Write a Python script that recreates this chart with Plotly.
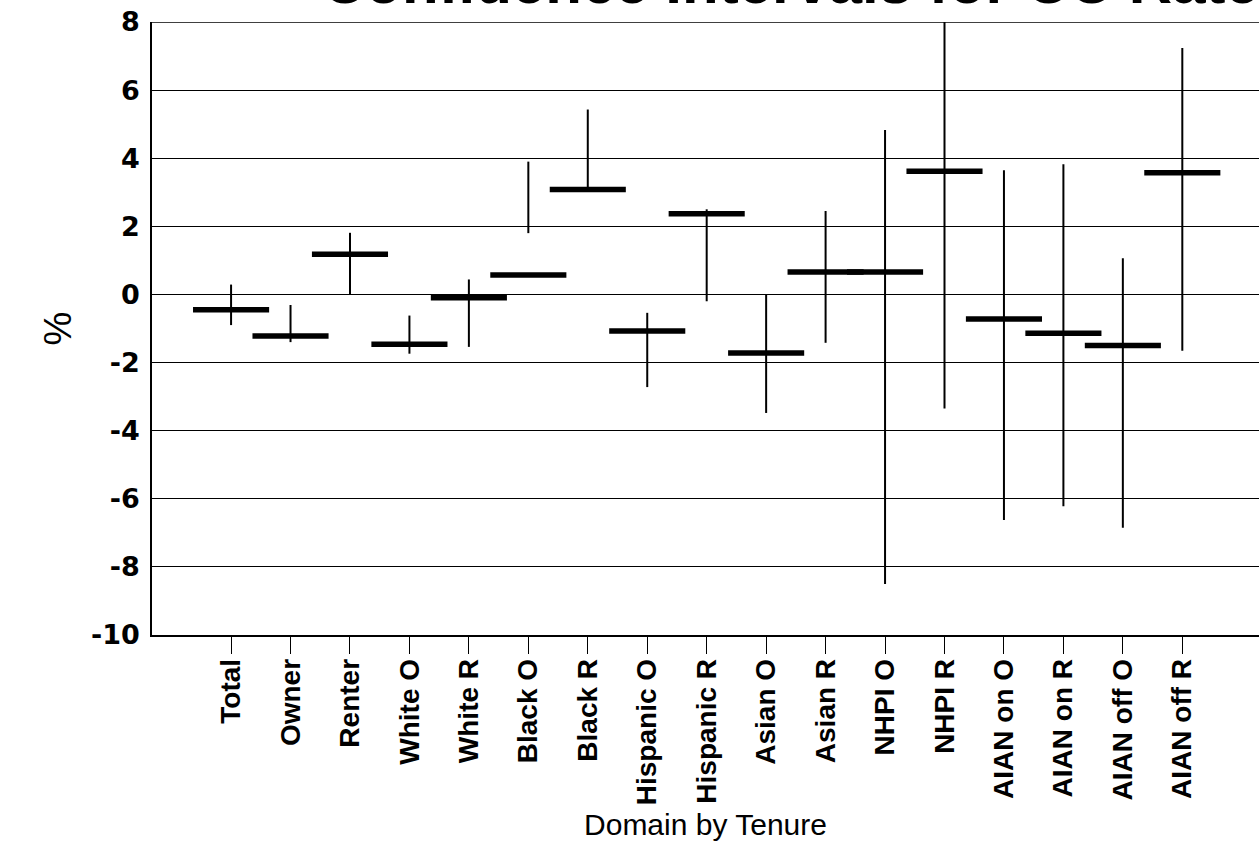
import plotly.graph_objects as go

categories = ["Total", "Owner", "Renter", "White O", "White R", "Black O", "Black R",
              "Hispanic O", "Hispanic R", "Asian O", "Asian R", "NHPI O", "NHPI R",
              "AIAN on O", "AIAN on R", "AIAN off O", "AIAN off R"]
estimate = [-0.45, -1.22, 1.18, -1.46, -0.10, 0.57, 3.08, -1.07, 2.37, -1.72, 0.66,
            0.66, 3.62, -0.72, -1.14, -1.50, 3.57]
lower = [-0.90, -1.40, 0.00, -1.74, -1.54, 1.80, 3.08, -2.72, -0.20, -3.48, -1.42,
         -8.50, -3.35, -6.62, -6.22, -6.85, -1.65]
upper = [0.29, -0.31, 1.81, -0.62, 0.44, 3.90, 5.43, -0.54, 2.50, 0.00, 2.45,
         4.83, 8.00, 3.65, 3.82, 1.06, 7.24]
y_ticks = [-10, -8, -6, -4, -2, 0, 2, 4, 6, 8]
y_tick_labels = ["-10", "-8", "-6", "-4", "-2", "0", "2", "4", "6", "8"]

idx = list(range(len(categories)))

fig = go.Figure()
# confidence interval lines
fig.add_trace(go.Scatter(
    x=idx, y=estimate, mode="markers",
    marker=dict(size=0.1, color="black", opacity=0),
    error_y=dict(type="data", symmetric=False,
                 array=[u - e for u, e in zip(upper, estimate)],
                 arrayminus=[e - l for e, l in zip(estimate, lower)],
                 color="black", thickness=2, width=0),
    hoverinfo="skip", showlegend=False, cliponaxis=False))
# estimate bars
fig.add_trace(go.Scatter(
    x=idx, y=estimate, mode="markers",
    marker=dict(size=0.1, color="black", opacity=0),
    error_x=dict(type="constant", value=0.64, color="black", thickness=5.5, width=0),
    showlegend=False, cliponaxis=False))

# top frame line at the highest tick
fig.add_shape(type="line", xref="paper", yref="y", x0=0, x1=1,
              y0=y_ticks[-1], y1=y_ticks[-1], line=dict(color="black", width=1.5))

fig.add_annotation(text="<b>Confidence Intervals for CC Rate</b>",
                   xref="paper", yref="paper", x=0.152, y=1.0065,
                   xanchor="left", yanchor="bottom", showarrow=False,
                   font=dict(family="Liberation Sans, Arial", size=60, color="black"))

fig.update_layout(
    width=1259, height=863,
    margin=dict(l=152, r=0, t=22, b=228, autoexpand=False),
    paper_bgcolor="white", plot_bgcolor="white",
    font=dict(family="Liberation Sans, Arial", color="black"),
    xaxis=dict(range=[-1.33, 17.29], tickvals=idx, ticktext=categories,
               tickangle=-90, ticks="outside", ticklen=17, tickcolor="black",
               tickwidth=1, showgrid=False, zeroline=False, automargin=False,
               showline=True, linecolor="black", linewidth=1.5,
               tickfont=dict(family="Liberation Sans, Arial", size=28,
                             color="black", weight="bold"),
               ticklabelstandoff=-6, ticklabeloverflow="allow",
               title=dict(text="Domain by Tenure", standoff=10,
                          font=dict(family="Liberation Sans, Arial", size=30, color="black"))),
    yaxis=dict(range=[-10, 8], tickvals=y_ticks, ticktext=y_tick_labels,
               showgrid=True, gridcolor="black", gridwidth=1.4, zeroline=False,
               showline=True, linecolor="black", linewidth=1.5, automargin=False,
               ticks="", ticklabelstandoff=5, ticklabeloverflow="allow",
               tickfont=dict(family="DejaVu Sans", size=27, color="black", weight="bold"),
               title=dict(text="%", standoff=8,
                          font=dict(family="Liberation Sans, Arial", size=38, color="black"))),
)

fig.write_html("out.html", config={"displayModeBar": False},
               post_script="document.body.style.margin='0';document.body.style.overflow='hidden';")
